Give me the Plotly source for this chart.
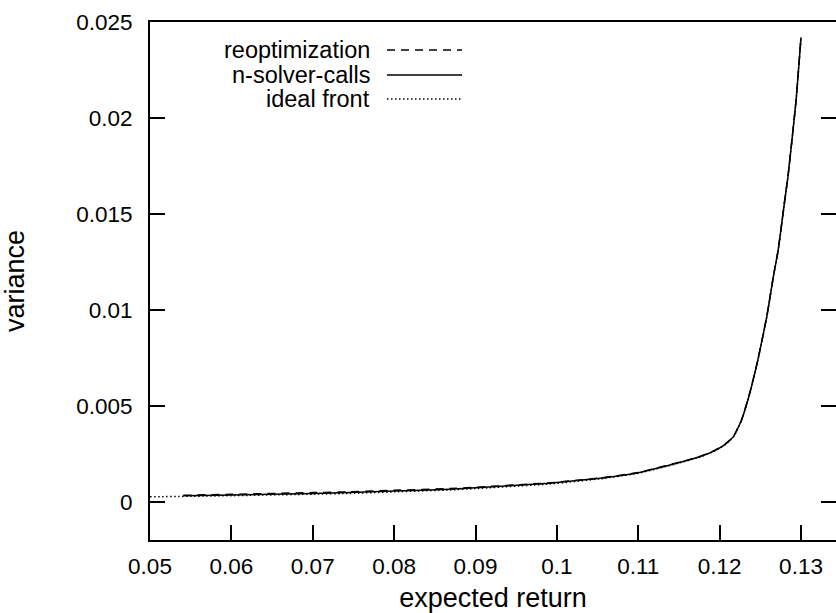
import plotly.graph_objects as go

# expected return (x) and variance (y)
x_solver = [0.0541, 0.06, 0.07, 0.0746, 0.08, 0.0869, 0.09, 0.0991, 0.1053, 0.11,
            0.1155, 0.1176, 0.1192, 0.1206, 0.1217, 0.1227, 0.1237, 0.1247, 0.1258,
            0.1266, 0.1272, 0.1280, 0.1284, 0.1294, 0.13]
y_solver = [0.00031, 0.00035, 0.00043, 0.00047, 0.00055, 0.00065, 0.00072, 0.00096,
            0.00122, 0.00151, 0.00209, 0.00235, 0.00262, 0.00296, 0.00339, 0.00426,
            0.00565, 0.00739, 0.00965, 0.01173, 0.01312, 0.01570, 0.01695, 0.02094,
            0.02420]

x_reopt = [0.0541, 0.06, 0.07, 0.0746, 0.08, 0.0869, 0.09, 0.0991, 0.1053, 0.11,
           0.1155, 0.1176, 0.1192, 0.1206, 0.1217, 0.1227, 0.1237, 0.1247, 0.1258,
           0.1266, 0.1272, 0.1280, 0.1284, 0.1294, 0.13]
y_reopt = [0.00033, 0.00038, 0.00047, 0.00051, 0.00059, 0.00068, 0.00075, 0.00098,
           0.00123, 0.00152, 0.00210, 0.00236, 0.00263, 0.00297, 0.00340, 0.00427,
           0.00566, 0.00740, 0.00966, 0.01174, 0.01313, 0.01571, 0.01696, 0.02095,
           0.02420]

x_ideal = [0.05, 0.06, 0.07, 0.0746, 0.08, 0.0869, 0.09, 0.0991, 0.1053, 0.11,
           0.1155, 0.1176, 0.1192, 0.1206, 0.1217, 0.1227, 0.1237, 0.1247, 0.1258,
           0.1266, 0.1272, 0.1280, 0.1284, 0.1294, 0.13]
y_ideal = [0.00025, 0.00031, 0.00039, 0.00043, 0.00051, 0.00061, 0.00068, 0.00092,
           0.00119, 0.00148, 0.00207, 0.00233, 0.00260, 0.00294, 0.00337, 0.00424,
           0.00563, 0.00737, 0.00963, 0.01171, 0.01310, 0.01568, 0.01693, 0.02092,
           0.02420]

series_names = ["reoptimization", "n-solver-calls", "ideal front"]
dash_styles = ["8px,6px", "solid", "1.5px,2.5px"]

x_ticks = [0.05, 0.06, 0.07, 0.08, 0.09, 0.10, 0.11, 0.12, 0.13]
x_tick_labels = ["0.05", "0.06", "0.07", "0.08", "0.09", "0.1", "0.11", "0.12", "0.13"]
y_ticks = [0, 0.005, 0.01, 0.015, 0.02, 0.025]
y_tick_labels = ["0", "0.005", "0.01", "0.015", "0.02", "0.025"]

FONT = "Liberation Sans, Arial, sans-serif"
FS = 22.5
FS_KEY = 23.5

fig = go.Figure()
for xs, ys, name, dash in zip([x_reopt, x_solver, x_ideal], [y_reopt, y_solver, y_ideal],
                              series_names, dash_styles):
    fig.add_trace(go.Scatter(x=xs, y=ys, mode="lines", name=name,
                             line=dict(color="black", width=1.5, dash=dash, shape="spline", smoothing=0.4),
                             hoverinfo="skip", showlegend=False))

# gnuplot-style key: text right-aligned, sample on the right
legend_y = [0.9459, 0.8977, 0.8514]
for name, dash, ly in zip(series_names, dash_styles, legend_y):
    fig.add_annotation(x=0.3236, y=ly, xref="paper", yref="paper", text=name, showarrow=False,
                       xanchor="right", yanchor="middle", font=dict(family=FONT, size=FS_KEY, color="black"))
    fig.add_shape(type="line", xref="paper", yref="paper", x0=0.3455, x1=0.4548, y0=ly, y1=ly,
                  line=dict(color="black", width=1.5, dash=dash))

fig.update_layout(
    width=836, height=613,
    margin=dict(l=150, r=0, t=22, b=73),
    paper_bgcolor="white", plot_bgcolor="white",
    font=dict(family=FONT, size=FS, color="black"),
    showlegend=False,
)
fig.update_xaxes(range=[0.05, 0.1343], tickvals=x_ticks, ticktext=x_tick_labels,
                 ticks="inside", ticklen=15, tickwidth=2, tickcolor="black",
                 showline=True, linewidth=2, linecolor="black", mirror=True,
                 showgrid=False, zeroline=False, automargin=False, ticklabelstandoff=5,
                 title=dict(text="expected return", standoff=15))
fig.update_yaxes(range=[-0.002, 0.025], tickvals=y_ticks, ticktext=y_tick_labels,
                 ticks="inside", ticklen=15, tickwidth=2, tickcolor="black",
                 showline=True, linewidth=2, linecolor="black", mirror="ticks",
                 showgrid=False, zeroline=False, automargin=False, ticklabelstandoff=11,
                 title=dict(text="variance", standoff=44))

fig.write_html("out.html")
